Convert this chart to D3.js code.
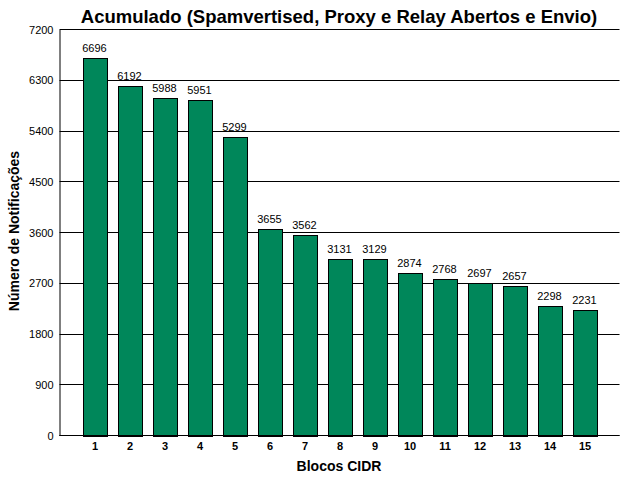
<!DOCTYPE html>
<html><head><meta charset="utf-8">
<script src="https://cdn.jsdelivr.net/npm/d3@7"></script>
<style>body{margin:0;background:#fff;} svg{display:block;font-family:"Liberation Sans",Arial,sans-serif;}</style>
</head><body>
<svg id="c" width="640" height="480"></svg>
<script>
const categories = ["1","2","3","4","5","6","7","8","9","10","11","12","13","14","15"];
const values = [6696,6192,5988,5951,5299,3655,3562,3131,3129,2874,2768,2697,2657,2298,2231];
const yTicks = [0,900,1800,2700,3600,4500,5400,6300,7200];
const titleText = "Acumulado (Spamvertised, Proxy e Relay Abertos e Envio)";
const xTitle = "Blocos CIDR";
const yTitle = "Número de Notificações";

const svg = d3.select("#c");
const L = 59.5, R = 619.5, T = 29.5, B = 435.5;
const x = d3.scalePoint().domain(categories).range([L, R]).padding(1);
const y = d3.scaleLinear().domain([0, 7200]).range([B, T]);
const bw = 24;

// gridlines
svg.append("g").selectAll("line").data(yTicks).join("line")
  .attr("x1", L).attr("x2", R)
  .attr("y1", d => Math.round(y(d) - 0.5) + 0.5).attr("y2", d => Math.round(y(d) - 0.5) + 0.5)
  .attr("stroke", "#000").attr("stroke-width", 1);

// y axis
const ya = d3.axisLeft(y).tickValues(yTicks).tickFormat(d3.format("d")).tickSize(0).tickPadding(6);
const yg = svg.append("g").attr("transform", `translate(${L},0)`).call(ya);
yg.select(".domain").attr("stroke", "#000");
yg.selectAll("text").attr("font-size", 11).attr("fill", "#000").attr("font-family", "Liberation Sans, Arial, sans-serif");

// bars
svg.append("g").selectAll("rect").data(values).join("rect")
  .attr("x", (d, i) => Math.round(x(categories[i]) - bw / 2) + 0.5)
  .attr("y", d => Math.round(y(d)) + 0.5)
  .attr("width", bw)
  .attr("height", d => Math.round(B) - Math.round(y(d)))
  .attr("fill", "#00875A").attr("stroke", "#000").attr("stroke-width", 1);

// value labels
svg.append("g").selectAll("text").data(values).join("text")
  .attr("x", (d, i) => x(categories[i]))
  .attr("y", d => y(d) - 6)
  .attr("text-anchor", "middle").attr("font-size", 11).text(d => d);

// x axis
const xa = d3.axisBottom(x).tickSize(0).tickPadding(7);
const xg = svg.append("g").attr("transform", `translate(0,${B})`).call(xa);
xg.select(".domain").remove();
xg.selectAll("text").attr("font-size", 11).attr("font-weight", "bold").attr("fill", "#000").attr("font-family", "Liberation Sans, Arial, sans-serif");
svg.append("line").attr("x1", L).attr("x2", R).attr("y1", B).attr("y2", B).attr("stroke", "#000");

// titles
svg.append("text").attr("x", 339).attr("y", 23).attr("text-anchor", "middle")
  .attr("font-size", 18.5).attr("font-weight", "bold").text(titleText);
svg.append("text").attr("x", 339).attr("y", 471).attr("text-anchor", "middle")
  .attr("font-size", 14).attr("font-weight", "bold").text(xTitle);
svg.append("text").attr("transform", "translate(19,231) rotate(-90)").attr("text-anchor", "middle")
  .attr("font-size", 14).attr("font-weight", "bold").text(yTitle);
</script>
</body></html>
